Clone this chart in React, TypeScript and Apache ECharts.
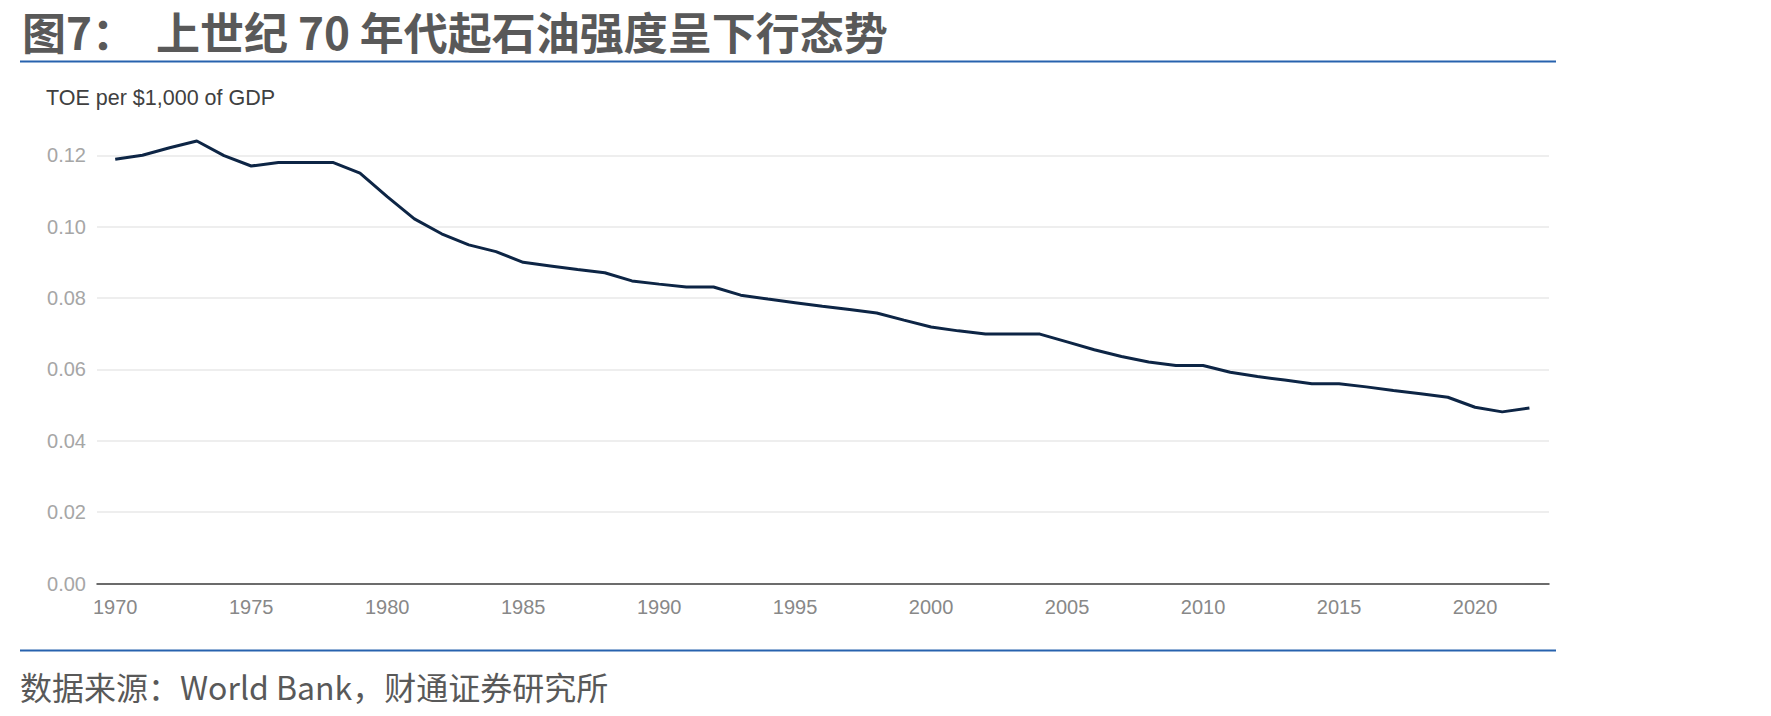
import React, { useEffect, useRef } from "react";
import * as echarts from "echarts";

const titleText = "图7：  上世纪 70 年代起石油强度呈下行态势";
const sourceText = "数据来源：World Bank，财通证券研究所";
const unitText = "TOE per $1,000 of GDP";

const years = [
  1970, 1971, 1972, 1973, 1974, 1975, 1976, 1977, 1978, 1979,
  1980, 1981, 1982, 1983, 1984, 1985, 1986, 1987, 1988, 1989,
  1990, 1991, 1992, 1993, 1994, 1995, 1996, 1997, 1998, 1999,
  2000, 2001, 2002, 2003, 2004, 2005, 2006, 2007, 2008, 2009,
  2010, 2011, 2012, 2013, 2014, 2015, 2016, 2017, 2018, 2019,
  2020, 2021, 2022,
];

const oilIntensity = [
  0.1189, 0.1200, 0.1221, 0.1240, 0.1199, 0.1170, 0.1180, 0.1180, 0.1180, 0.1150,
  0.1084, 0.1022, 0.0980, 0.0949, 0.0930, 0.0900, 0.0890, 0.0880, 0.0871, 0.0848,
  0.0839, 0.0831, 0.0831, 0.0808, 0.0797, 0.0787, 0.0777, 0.0768, 0.0758, 0.0738,
  0.0719, 0.0708, 0.0699, 0.0699, 0.0699, 0.0677, 0.0655, 0.0636, 0.0621, 0.0611,
  0.0611, 0.0592, 0.0580, 0.0570, 0.0560, 0.0560, 0.0551, 0.0541, 0.0532, 0.0522,
  0.0494, 0.0481, 0.0492,
];

const xTickYears = [1970, 1975, 1980, 1985, 1990, 1995, 2000, 2005, 2010, 2015, 2020];
const yTicks = [0, 0.02, 0.04, 0.06, 0.08, 0.1, 0.12];

export default function App() {
  const ref = useRef<HTMLDivElement>(null);

  useEffect(() => {
    if (!ref.current) return;
    const chart = echarts.init(ref.current, undefined, { renderer: "svg" });
    const data = years.map((y, i) => [y, oilIntensity[i]]);
    chart.setOption({
      animation: false,
      backgroundColor: "#ffffff",
      grid: { left: 97, top: 155.3, width: 1452, height: 428.2, containLabel: false },
      xAxis: {
        type: "value",
        min: 1969.33,
        max: 2022.72,
        axisLine: { show: true, lineStyle: { color: "#404040", width: 1.5 } },
        axisTick: { show: false },
        splitLine: { show: false },
        axisLabel: {
          customValues: xTickYears,
          formatter: (v: number) => String(v),
          color: "#888888",
          fontSize: 20,
          fontFamily: "Liberation Sans, Arial, sans-serif",
          margin: 13,
        },
      },
      yAxis: {
        type: "value",
        min: yTicks[0],
        max: yTicks[yTicks.length - 1],
        interval: 0.02,
        axisLine: { show: false },
        axisTick: { show: false },
        splitLine: { show: true, lineStyle: { color: "#e8e8e8", width: 1.5 } },
        axisLabel: {
          formatter: (v: number) => v.toFixed(2),
          color: "#a6a6a6",
          fontSize: 20,
          fontFamily: "Liberation Sans, Arial, sans-serif",
          margin: 11,
        },
      },
      series: [
        {
          type: "line",
          data,
          clip: false,
          symbol: "none",
          lineStyle: { color: "#0d2545", width: 3 },
        },
      ],
      graphic: [
        {
          type: "text",
          x: 22,
          y: 31,
          style: {
            text: titleText,
            font: "bold 44px 'Noto Sans CJK SC', sans-serif",
            fill: "#595959",
            textVerticalAlign: "middle",
          },
        },
        {
          type: "line",
          shape: { x1: 20, y1: 61.5, x2: 1556, y2: 61.5 },
          style: { stroke: "#2762ae", lineWidth: 2 },
        },
        {
          type: "text",
          x: 46,
          y: 98,
          style: {
            text: unitText,
            font: "21.5px 'Liberation Sans', Arial, sans-serif",
            fill: "#404040",
            textVerticalAlign: "middle",
          },
        },
        {
          type: "line",
          shape: { x1: 20, y1: 650.5, x2: 1556, y2: 650.5 },
          style: { stroke: "#2762ae", lineWidth: 2 },
        },
        {
          type: "text",
          x: 20,
          y: 686,
          style: {
            text: sourceText,
            font: "32px 'Noto Sans CJK SC', sans-serif",
            fill: "#595959",
            textVerticalAlign: "middle",
          },
        },
      ],
    });
    return () => chart.dispose();
  }, []);

  return (
    <div
      ref={ref}
      style={{ position: "absolute", left: 0, top: 0, width: 1771, height: 716 }}
    />
  );
}
